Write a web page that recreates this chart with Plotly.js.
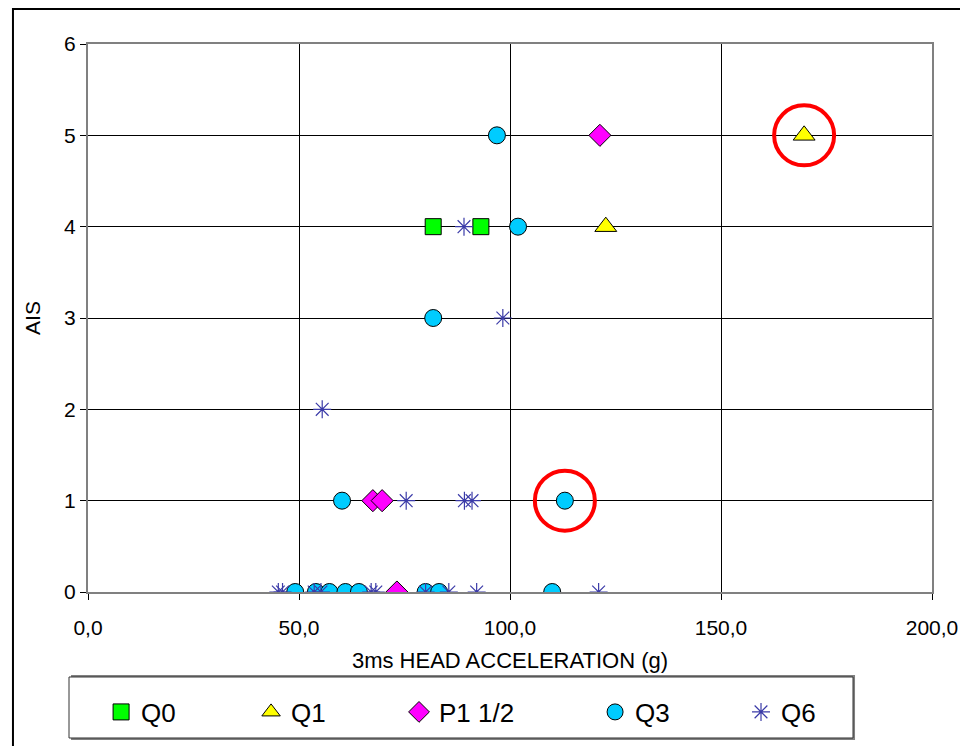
<!DOCTYPE html>
<html>
<head>
<meta charset="utf-8">
<script src="https://cdn.plot.ly/plotly-3.0.1.min.js"></script>
<style>html,body{margin:0;padding:0;background:#fff;}#chart{width:960px;height:746px;}</style>
</head>
<body>
<div id="chart"></div>
<script>
// Data
const q0X = [81.8, 93.1];
const q0Y = [4, 4];
const q1X = [122.7, 169.7];
const q1Y = [4, 5];
const p1X = [121.3, 67.5, 69.7, 73.2];
const p1Y = [5, 1, 1, 0];
const q3X = [96.9, 101.9, 81.8, 60.2, 113.0, 49.1, 54.0, 57.2, 61.0, 64.2, 80.0, 83.2, 110.0];
const q3Y = [5, 4, 3, 1, 1, 0, 0, 0, 0, 0, 0, 0, 0];
const q6X = [89.1, 98.3, 55.5, 75.4, 89.2, 91.0, 45.1, 46.1, 53.6, 55.2, 67.1, 68.2, 80.0, 85.5, 92.1, 121.0];
const q6Y = [4, 3, 2, 1, 1, 1, 0, 0, 0, 0, 0, 0, 0, 0, 0, 0];
const seriesNames = ["Q0", "Q1", "P1 1/2", "Q3", "Q6"];
const xTickVals = [0, 50, 100, 150, 200];
const xTickText = ["0,0", "50,0", "100,0", "150,0", "200,0"];
const yTickVals = [0, 1, 2, 3, 4, 5, 6];
// highlighted points: [series x, series y, index]
const highlighted = [[q1X, q1Y, 1], [q3X, q3Y, 4]];

const font = "Liberation Sans, Arial, sans-serif";
const mk = (sym, col, size) => ({symbol: sym, color: col, size: size, line: {color: "#000", width: 1}});

const traces = [
  {x: q0X, y: q0Y, name: seriesNames[0], legend: "legend", mode: "markers", type: "scatter", marker: mk("square", "#00ff00", 16)},
  {x: q1X, y: q1Y, name: seriesNames[1], legend: "legend2", mode: "markers", type: "scatter", marker: mk("triangle-up", "#ffff00", 19)},
  {x: p1X, y: p1Y, name: seriesNames[2], legend: "legend3", mode: "markers", type: "scatter", marker: mk("diamond", "#ff00ff", 17)},
  {x: q3X, y: q3Y, name: seriesNames[3], legend: "legend4", mode: "markers", type: "scatter", marker: mk("circle", "#00ccff", 17)},
  {x: q6X, y: q6Y, name: seriesNames[4], legend: "legend5", mode: "markers", type: "scatter",
   marker: {symbol: "asterisk-open", size: 15, color: "#3b3ba8", line: {color: "#3b3ba8", width: 1.2}}}
];

const shapes = [
  {type: "rect", xref: "paper", yref: "paper", x0: -0.0889, x1: 1.05, y0: -0.30, y1: 1.0639,
   line: {color: "#000", width: 2}, fillcolor: "rgba(0,0,0,0)", layer: "below"},
  // legend frame with shadow
  {type: "rect", xref: "paper", yref: "paper", x0: -0.0201, x1: 0.9088, y0: -0.2700, y1: -0.1515,
   line: {width: 0}, fillcolor: "#808080", layer: "below"},
  {type: "rect", xref: "paper", yref: "paper", x0: -0.0225, x1: 0.9064, y0: -0.2664, y1: -0.1551,
   line: {color: "#333", width: 1}, fillcolor: "#fff", layer: "below"}
];
highlighted.forEach(h => {
  shapes.push({type: "circle", xref: "x", yref: "y", xsizemode: "pixel", ysizemode: "pixel",
    xanchor: h[0][h[2]], yanchor: h[1][h[2]], x0: -30, x1: 30, y0: -30, y1: 30,
    line: {color: "#ff0000", width: 4}});
});

const legendBase = (x) => ({orientation: "h", x: x, y: -0.219, xanchor: "left", yanchor: "middle",
  borderwidth: 0, bgcolor: "rgba(0,0,0,0)", font: {size: 26, family: font, color: "#000"}, itemsizing: "trace"});

const layout = {
  width: 960, height: 746,
  margin: {l: 88, r: 28, t: 44, b: 154, autoexpand: false},
  paper_bgcolor: "#fff", plot_bgcolor: "#fff",
  font: {family: font, color: "#000", size: 21},
  showlegend: true,
  legend: legendBase(0.0155),
  legend2: legendBase(0.1932),
  legend3: legendBase(0.3685),
  legend4: legendBase(0.6008),
  legend5: legendBase(0.7737),
  xaxis: {range: [0, 200], tickvals: xTickVals, ticktext: xTickText, showgrid: true, gridcolor: "#000", gridwidth: 1,
    showline: true, linecolor: "#808080", linewidth: 2, mirror: true, ticks: "outside", ticklen: 6, tickcolor: "#000",
    zeroline: false, tickfont: {size: 21}, automargin: false, ticklabelstandoff: 10,
    title: {text: "3ms HEAD ACCELERATION (g)", font: {size: 22}, standoff: 14}},
  yaxis: {range: [0, 6], tickvals: yTickVals, showgrid: true, gridcolor: "#000", gridwidth: 1,
    showline: true, linecolor: "#808080", linewidth: 2, mirror: true, ticks: "outside", ticklen: 6, tickcolor: "#000",
    zeroline: false, tickfont: {size: 21}, automargin: false,
    title: {text: "AIS", font: {size: 21}, standoff: 18}},
  shapes: shapes
};

Plotly.newPlot("chart", traces, layout, {displayModeBar: false, staticPlot: true});
</script>
</body>
</html>
